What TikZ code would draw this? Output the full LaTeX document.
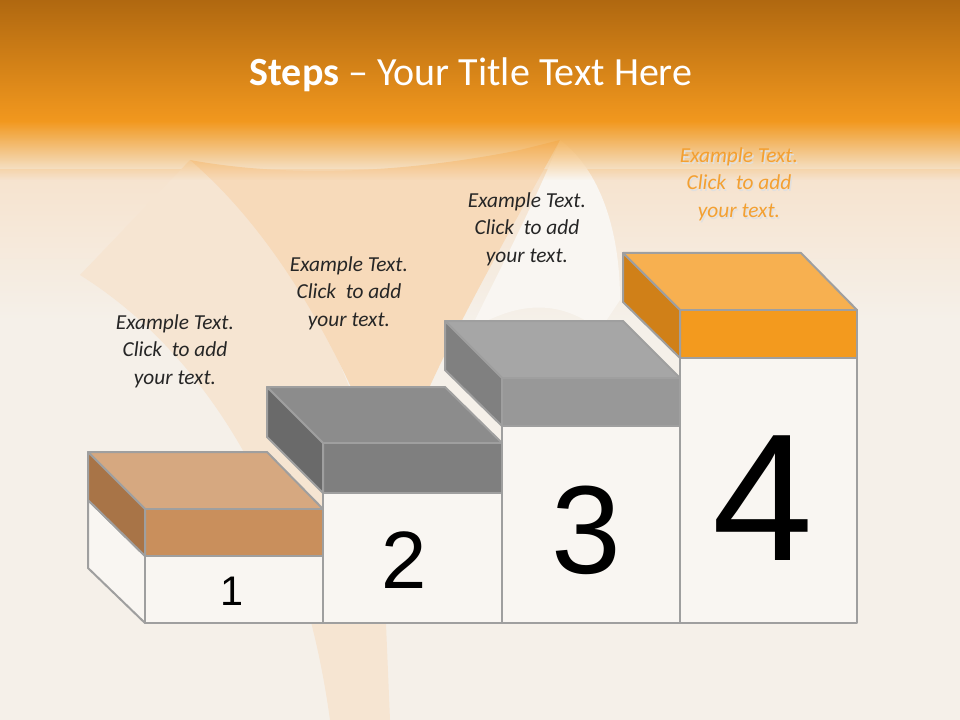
\documentclass[tikz,border=0pt]{standalone}
\usepackage{fontspec}
\setmainfont{Carlito}
\newfontfamily\arial{Liberation Sans}
\usetikzlibrary{fadings}
\definecolor{cream}{RGB}{245,240,233}
\definecolor{otop}{RGB}{176,104,16}
\definecolor{obot}{RGB}{242,152,30}
\begin{document}
\begin{tikzpicture}[x=0.75pt,y=-0.75pt,
  col/.style={draw=gray!75,line width=1.5pt,fill=cream!60!white,line join=round},
  face/.style={draw=gray!75,line width=1.5pt,line join=round},
  num/.style={font=\arial,anchor=base},
  lbl/.style={font=\fontsize{16}{20.5}\selectfont\itshape,align=center,text=black!85}]
\useasboundingbox (0,0) rectangle (960,720);
\fill[cream] (0,0) rectangle (960,720);
\fill[top color=orange!12!cream,bottom color=cream] (0,170) rectangle (960,320);
% page curl hints
\fill[orange!10!cream] (80,275) -- (190,160) .. controls (260,220) and (330,300) .. (380,480) -- (390,720) -- (330,720) .. controls (300,500) and (200,350) .. cycle;
\fill[orange!20!cream] (190,160) .. controls (300,180) and (420,170) .. (520,150) -- (560,140) .. controls (500,250) and (440,350) .. (390,480) .. controls (330,320) and (260,220) .. cycle;
\fill[cream!60!white] (560,140) .. controls (600,170) and (620,230) .. (620,300) -- (600,330) .. controls (560,300) and (520,300) .. (470,330) .. controls (510,250) and (540,190) .. cycle;
\fill[top color=otop,bottom color=obot] (0,0) rectangle (960,122);
\fill[obot,path fading=south] (0,121) rectangle (960,180);
\node[font=\fontsize{30}{34}\selectfont,text=white] (title) at (471,75) {\textbf{Steps} -- Your Title Text Here};
% columns
\draw[col] (88,500) -- (145,556) -- (145,623) -- (88,568) -- cycle;
\draw[col] (145,556) rectangle (323,623);
\draw[col] (323,493) rectangle (502,623);
\draw[col] (502,426) rectangle (680,623);
\draw[col] (680,358) rectangle (857,623);
% block 1
\draw[face,fill={rgb,255:red,214;green,168;blue,128}] (88,452) -- (267,452) -- (323,509) -- (145,509) -- cycle;
\draw[face,fill={rgb,255:red,201;green,143;blue,92}] (145,509) rectangle (323,556);
\draw[face,fill={rgb,255:red,168;green,116;blue,71}] (88,452) -- (145,509) -- (145,556) -- (88,500) -- cycle;
% block 2
\draw[face,fill={rgb,255:red,140;green,140;blue,140}] (267,387) -- (445,387) -- (502,443) -- (323,443) -- cycle;
\draw[face,fill={rgb,255:red,127;green,127;blue,127}] (323,443) rectangle (502,493);
\draw[face,fill={rgb,255:red,106;green,106;blue,106}] (267,387) -- (323,443) -- (323,493) -- (267,437) -- cycle;
% block 3
\draw[face,fill={rgb,255:red,166;green,166;blue,166}] (445,321) -- (623,321) -- (680,378) -- (502,378) -- cycle;
\draw[face,fill={rgb,255:red,152;green,152;blue,152}] (502,378) rectangle (680,426);
\draw[face,fill={rgb,255:red,128;green,128;blue,128}] (445,321) -- (502,378) -- (502,426) -- (445,370) -- cycle;
% block 4
\draw[face,fill={rgb,255:red,247;green,176;blue,80}] (623,253) -- (801,253) -- (857,310) -- (680,310) -- cycle;
\draw[face,fill={rgb,255:red,243;green,154;blue,30}] (680,310) rectangle (857,358);
\draw[face,fill={rgb,255:red,208;green,128;blue,24}] (623,253) -- (680,310) -- (680,358) -- (623,302) -- cycle;
% numbers
\node[num,font=\arial\fontsize{31}{31}\selectfont] (n1) at (232,605) {1};
\node[num,font=\arial\fontsize{61}{61}\selectfont] (n2) at (404,588) {2};
\node[num,font=\arial\fontsize{94}{94}\selectfont] (n3) at (586,573) {3};
\node[num,font=\arial\fontsize{136}{136}\selectfont] (n4) at (763,560) {4};
% labels
\node[lbl] (t1) at (175,351) {Example Text.\\Click\ \ to add\\your text.};
\node[lbl] (t2) at (349,293) {Example Text.\\Click\ \ to add\\your text.};
\node[lbl] (t3) at (527,229) {Example Text.\\Click\ \ to add\\your text.};
\node[lbl,text=black!12] at (740.5,186) {Example Text.\\Click\ \ to add\\your text.};
\node[lbl,text={rgb,255:red,243;green,160;blue,50}] (t4) at (739,184) {Example Text.\\Click\ \ to add\\your text.};
\end{tikzpicture}
\end{document}
